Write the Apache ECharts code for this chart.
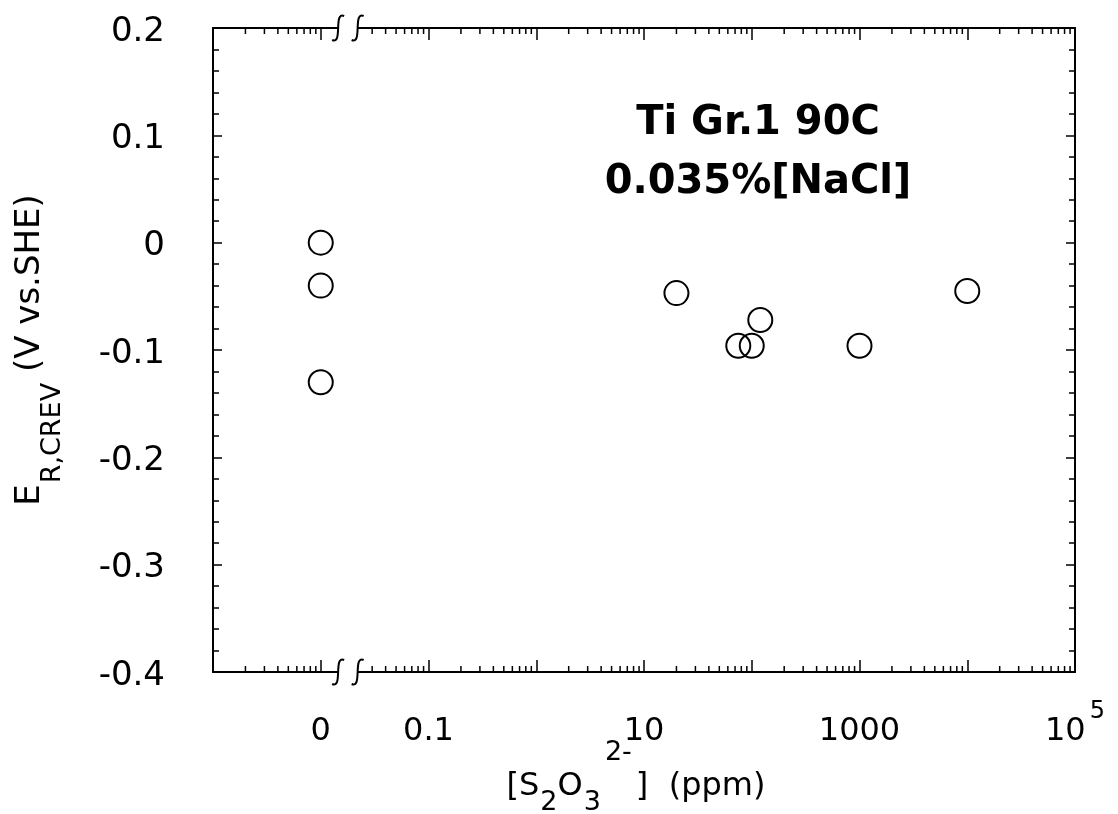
<!DOCTYPE html>
<html>
<head>
<meta charset="utf-8">
<script src="https://cdn.jsdelivr.net/npm/echarts@6/dist/echarts.min.js"></script>
<style>
  html, body { margin: 0; padding: 0; background: #fff; }
  #chart { width: 1118px; height: 814px; }
</style>
</head>
<body>
<div id="chart"></div>
<script>
// Thiosulfate concentration in ppm; the "0" group sits at 0.01, left of the axis break
const concentration = [0.01, 0.01, 0.01, 20, 75, 100, 120, 1000, 10000];
// Repassivation potential E_R,CREV in V vs. SHE
const potential = [0.000, -0.040, -0.130, -0.047, -0.096, -0.096, -0.072, -0.096, -0.045];

// Labelled decades on the concentration axis ("^" marks a superscript)
const xTickValues = [0.01, 0.1, 10, 1000, 100000];
const xTickLabels = ['0', '0.1', '10', '1000', '10^5'];

// Span of the concentration axis that is cut out by the break marks
const breakRange = [0.0145, 0.022];

const FONT = 'DejaVu Sans';
const chart = echarts.init(document.getElementById('chart'), null, { renderer: 'canvas' });

function xLabel(value) {
  const e = Math.round(Math.log10(value));
  const i = xTickValues.findIndex(v => Math.round(Math.log10(v)) === e);
  if (i < 0) return '';
  const parts = xTickLabels[i].split('^');
  return parts.length > 1 ? '{a|' + parts[0] + '}{s|' + parts[1] + '}' : '{a|' + parts[0] + '}';
}

function yLabel(value) {
  return '{v|' + String(+value.toFixed(1)) + '}';
}

const xAxisCommon = {
  type: 'log',
  logBase: 10,
  min: 0.001,
  max: 100000,
  axisLine: { show: true, onZero: false, lineStyle: { color: '#000', width: 2 } },
  axisTick: { show: true, inside: true, length: 12, lineStyle: { color: '#000', width: 1.5 } },
  minorTick: { show: false },
  splitLine: { show: false }
};

const yAxisCommon = {
  type: 'value',
  min: -0.4,
  max: 0.2,
  interval: 0.1,
  axisLine: { show: true, onZero: false, lineStyle: { color: '#000', width: 2 } },
  axisTick: { show: true, inside: true, length: 9, lineStyle: { color: '#000', width: 1.5 } },
  minorTick: { show: true, splitNumber: 5, length: 6, lineStyle: { color: '#000', width: 1.5 } },
  splitLine: { show: false }
};

chart.setOption({
  backgroundColor: '#fff',
  animation: false,
  grid: { left: 213, right: 43, top: 28, bottom: 142, containLabel: false, outerBoundsMode: 'none' },
  xAxis: [
    Object.assign({}, xAxisCommon, {
      position: 'bottom',
      axisLabel: {
        margin: 28,
        color: '#000',
        formatter: xLabel,
        rich: {
          a: { fontFamily: FONT, fontSize: 32, color: '#000', padding: [16, 0, 0, 0], verticalAlign: 'top' },
          s: { fontFamily: FONT, fontSize: 24, color: '#000', padding: [0, 0, 0, 4], verticalAlign: 'top' }
        }
      }
    }),
    Object.assign({}, xAxisCommon, { position: 'top', axisLabel: { show: false } })
  ],
  yAxis: [
    Object.assign({}, yAxisCommon, {
      position: 'left',
      axisLabel: {
        margin: 48,
        color: '#000',
        formatter: yLabel,
        rich: { v: { fontFamily: FONT, fontSize: 34, color: '#000', padding: [8, 0, 0, 0] } }
      }
    }),
    Object.assign({}, yAxisCommon, { position: 'right', axisLabel: { show: false } })
  ],
  series: [{
    type: 'scatter',
    xAxisIndex: 0,
    yAxisIndex: 0,
    symbol: 'circle',
    symbolSize: 24,
    itemStyle: { color: 'rgba(0,0,0,0)', borderColor: '#000', borderWidth: 2, opacity: 1 },
    data: concentration.map((c, i) => [c, potential[i]])
  }]
});

// Log minor ticks, axis break marks, axis titles and annotation
function decorate() {
  const px = v => chart.convertToPixel({ xAxisIndex: 0 }, v);
  const py = v => chart.convertToPixel({ yAxisIndex: 0 }, v);
  const yTop = py(0.2);
  const yBot = py(-0.4);
  const xLeft = px(0.001);
  const xRight = px(100000);
  const els = [];
  const tickStyle = { stroke: '#000', lineWidth: 1.5 };

  for (let k = -3; k < 5; k++) {
    for (let m = 2; m <= 9; m++) {
      const v = m * Math.pow(10, k);
      if (v >= breakRange[0] && v <= breakRange[1]) continue;
      const x = px(v);
      els.push({ type: 'line', z: 100, shape: { x1: x, y1: yTop, x2: x, y2: yTop + 6 }, style: tickStyle });
      els.push({ type: 'line', z: 100, shape: { x1: x, y1: yBot, x2: x, y2: yBot - 6 }, style: tickStyle });
    }
  }

  const xL = px(breakRange[0]);
  const xR = px(breakRange[1]);
  [yTop, yBot].forEach(y => {
    els.push({ type: 'rect', z: 101, shape: { x: xL, y: y - 3, width: xR - xL, height: 6 }, style: { fill: '#fff', stroke: null } });
    [xL, xR].forEach(x => {
      els.push({
        type: 'bezierCurve', z: 102,
        shape: { x1: x + 6, y1: y - 12, cpx1: x - 5, cpy1: y - 17, cpx2: x + 5, cpy2: y + 17, x2: x - 6, y2: y + 12 },
        style: { stroke: '#000', lineWidth: 2, fill: null }
      });
    });
  });

  // Horizontal axis title
  els.push({
    type: 'text', z: 100,
    x: (xLeft + xRight) / 2 - 8, y: 739,
    style: {
      text: '{m|[S}{s|2}{m|O}{s|3}{p|2-}{m|]  (ppm)}',
      align: 'center',
      verticalAlign: 'top',
      fill: '#000',
      rich: {
        m: { fontFamily: FONT, fontSize: 32, fill: '#000', padding: [32, 0, 0, 0], verticalAlign: 'top' },
        s: { fontFamily: FONT, fontSize: 27, fill: '#000', padding: [50, 0, 0, 1], verticalAlign: 'top' },
        p: { fontFamily: FONT, fontSize: 27, fill: '#000', padding: [0, 4, 0, 4], verticalAlign: 'top' }
      }
    }
  });

  // Vertical axis title
  els.push({
    type: 'text', z: 100,
    x: 40, y: (yTop + yBot) / 2,
    rotation: Math.PI / 2,
    style: {
      text: '{m|E}{s|R,CREV}{m| (V vs.SHE)}',
      align: 'center',
      verticalAlign: 'middle',
      fill: '#000',
      rich: {
        m: { fontFamily: FONT, fontSize: 34, fill: '#000', verticalAlign: 'top' },
        s: { fontFamily: FONT, fontSize: 27, fill: '#000', padding: [26, 0, 0, 1], verticalAlign: 'top' }
      }
    }
  });

  // Material and environment annotation
  els.push({
    type: 'text', z: 100,
    x: 758, y: 153,
    style: {
      text: 'Ti Gr.1 90C\n0.035%[NaCl]',
      align: 'center',
      verticalAlign: 'middle',
      fill: '#000',
      font: 'bold 40px "DejaVu Sans"',
      lineHeight: 59
    }
  });

  chart.setOption({ graphic: { elements: els } });
}
decorate();
</script>
</body>
</html>
